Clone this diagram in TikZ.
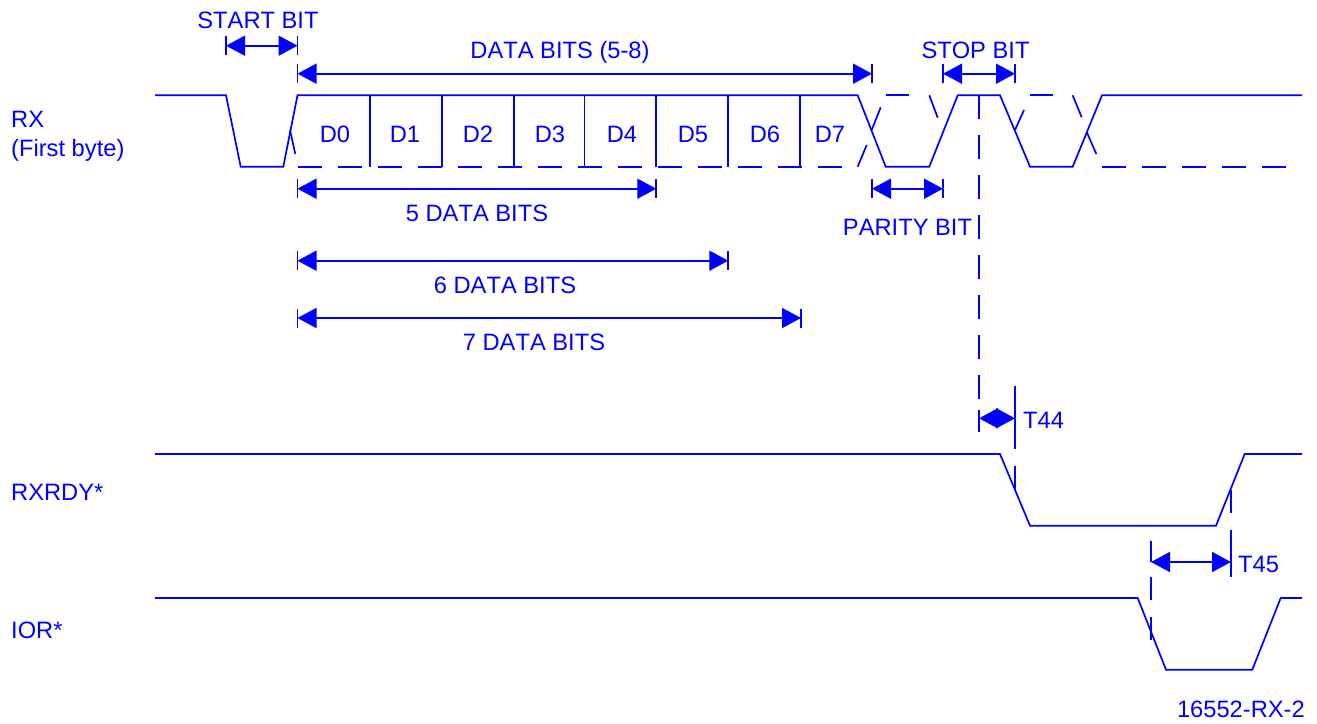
\documentclass[tikz,border=0pt]{standalone}
\usepackage{fontspec}
\setmainfont[Kerning=Off]{Liberation Sans}
\usetikzlibrary{arrows.meta}
\definecolor{sigblue}{RGB}{0,0,255}
\tikzset{
  wave/.style={draw=sigblue,line width=1.7pt,line join=miter},
  dim/.style={draw=sigblue,line width=1.7pt,{Triangle[length=19pt,width=20pt,sep=0pt]}-{Triangle[length=19pt,width=20pt,sep=0pt]}},
  tick/.style={draw=sigblue,line width=1.7pt},
  lbl/.style={text=sigblue,inner sep=0pt,font=\fontsize{23.7}{27.5}\selectfont},
  lblL/.style={lbl,anchor=base west,align=left},
  lblC/.style={lbl,anchor=base}
}
\begin{document}
\begin{tikzpicture}[x=1pt,y=-1pt]
\useasboundingbox (0,0) rectangle (1317,723);
% RX waveform
\draw[wave] (155,95.3) -- (226,95.3) -- (240.7,166.7) -- (283.3,166.7) -- (297.5,95.3) -- (857.7,95.3) -- (885.7,166.7) -- (929.3,166.7) -- (957.7,95.3) -- (1000,95.3) -- (1030,166.7) -- (1072.7,166.7) -- (1102,95.3) -- (1302,95.3);
% bit separators
\foreach \x in {369.7,441.7,513.7,584.4,656.3,728.3,800.2}
  \draw[tick] (\x,95.3) -- (\x,166.7);
% dashed low level
\foreach \x in {0,...,13}
  \draw[tick] ({297.5+40*\x},166.7) -- ({321.5+40*\x},166.7);
\foreach \x in {0,...,4}
  \draw[tick] ({1101.7+40*\x},166.7) -- ({1125.7+40*\x},166.7);
% dashed high level
\draw[tick] (885.7,95.3) -- (909.3,95.3);
\draw[tick] (1030,95.3) -- (1053.3,95.3);
% dashed alternate edges
\draw[tick] (290,130) -- (295.3,154);
\draw[tick] (857.7,166.7) -- (866.7,145);
\draw[tick] (871.7,130) -- (880.7,107.3);
\draw[tick] (929.3,95.3) -- (937.7,117.7);
\draw[tick] (1015,130) -- (1024,110);
\draw[tick] (1072.7,95.3) -- (1081.7,117.3);
\draw[tick] (1086.7,132) -- (1096.3,154);
% RXRDY, IOR
\draw[wave] (155,454) -- (1000,454) -- (1030,525.7) -- (1216,525.7) -- (1244.7,454) -- (1302,454);
\draw[wave] (155,598) -- (1137.7,598) -- (1166,669.7) -- (1252.3,669.7) -- (1280.7,598) -- (1302,598);
% dashed timing reference lines
\foreach \y in {0,...,7}
  \draw[tick] (979,{95+40*\y}) -- (979,{119.3+40*\y});
\draw[tick] (979,410) -- (979,432);
\draw[tick] (1015,386) -- (1015,449.3);
\draw[tick] (1015,466) -- (1015,490);
\draw[tick] (1231,490) -- (1231,513.3);
\draw[tick] (1231,530) -- (1231,576.7);
\draw[tick] (1151,540.7) -- (1151,562);
\draw[tick] (1151,576.7) -- (1151,600);
\draw[tick] (1151,616.7) -- (1151,640);
% dimension end points and ticks
\coordinate (sbL) at (226,45.7); \coordinate (sbR) at (297.5,45.7);
\coordinate (dbL) at (297.5,73.7); \coordinate (dbR) at (872,73.7);
\coordinate (stL) at (943,73.7); \coordinate (stR) at (1015,73.7);
\coordinate (paL) at (872,188.7); \coordinate (paR) at (943,188.7);
\coordinate (d5L) at (297.5,188.7); \coordinate (d5R) at (656.3,188.7);
\coordinate (d6L) at (297.5,260.7); \coordinate (d6R) at (728.3,260.7);
\coordinate (d7L) at (297.5,318); \coordinate (d7R) at (801,318);
\coordinate (t44L) at (979,418.3); \coordinate (t44R) at (1015,418.3);
\coordinate (t45L) at (1151,562); \coordinate (t45R) at (1231,562);
\foreach \c in {sbL,sbR,dbL,dbR,stL,stR,paL,paR,d5L,d5R,d6L,d6R,d7L,d7R}
  \draw[tick] ([yshift=-9.5pt]\c) -- ([yshift=9.5pt]\c);
\draw[dim] (sbL) -- (sbR);
\draw[dim] (dbL) -- (dbR);
\draw[dim] (stL) -- (stR);
\draw[dim] (paL) -- (paR);
\draw[dim] (d5L) -- (d5R);
\draw[dim] (d6L) -- (d6R);
\draw[dim] (d7L) -- (d7R);
\draw[dim] (t44L) -- (t44R);
\draw[dim] (t45L) -- (t45R);
% labels
\node[lblC] (startbit) at (258,28) {START BIT};
\node[lblC] (databits) at (560,58) {DATA BITS (5-8)};
\node[lblC] (stopbit) at (975.5,58) {STOP BIT};
\node[lblC] (paritybit) at (907.5,235) {PARITY BIT};
\node[lblC] (five) at (477,221) {5 DATA BITS};
\node[lblC] (six) at (505,293) {6 DATA BITS};
\node[lblC] (seven) at (534,350) {7 DATA BITS};
\foreach \n/\x/\t in {d0/335/D0,d1/405/D1,d2/478/D2,d3/550/D3,d4/622/D4,d5/693/D5,d6/765/D6,d7/830/D7}
  \node[lblC] (\n) at (\x,142.3) {\t};
\node[lblL] (rx) at (11,127) {RX};
\node[lblL] (first) at (11,156) {(First byte)};
\node[lblL] (rxrdy) at (11,500.5) {RXRDY*};
\node[lblL] (ior) at (11,638) {IOR*};
\node[lblL] (t44) at (1023,428) {T44};
\node[lblL] (t45) at (1238,572) {T45};
\node[lbl,anchor=base east] (fig) at (1305,717) {16552-RX-2};
\end{tikzpicture}
\end{document}
